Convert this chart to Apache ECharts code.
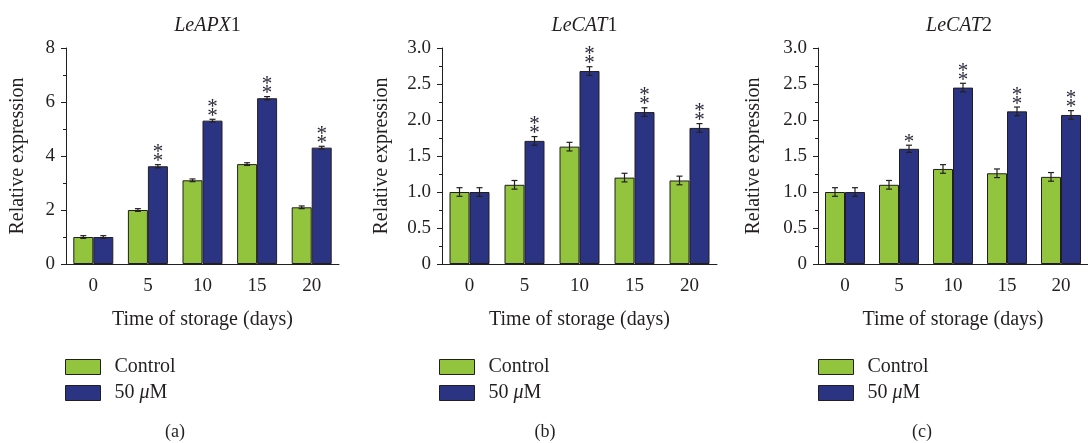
<!DOCTYPE html>
<html>
<head>
<meta charset="utf-8">
<script src="https://cdn.jsdelivr.net/npm/echarts@6/dist/echarts.min.js"></script>
<style>
  html, body { margin: 0; padding: 0; background: #fff; }
  #chart { width: 1088px; height: 443px; }
</style>
</head>
<body>
<div id="chart"></div>
<script>
// storage days (x categories)
var days = ['0', '5', '10', '15', '20'];

// LeAPX1
var apxControl = [1.0, 2.0, 3.1, 3.7, 2.1];
var apxControlErr = [0.05, 0.05, 0.05, 0.05, 0.05];
var apxTreated = [1.0, 3.62, 5.31, 6.14, 4.31];
var apxTreatedErr = [0.05, 0.06, 0.05, 0.06, 0.05];
var apxSig = ['', '**', '**', '**', '**'];
var apxTicks = [0, 2, 4, 6, 8];

// LeCAT1
var cat1Control = [1.0, 1.10, 1.63, 1.20, 1.16];
var cat1ControlErr = [0.06, 0.06, 0.06, 0.06, 0.06];
var cat1Treated = [1.0, 1.71, 2.68, 2.11, 1.89];
var cat1TreatedErr = [0.06, 0.06, 0.06, 0.06, 0.06];
var cat1Sig = ['', '**', '**', '**', '**'];
var cat1Ticks = [0, 0.5, 1.0, 1.5, 2.0, 2.5, 3.0];

// LeCAT2
var cat2Control = [1.0, 1.10, 1.32, 1.26, 1.21];
var cat2ControlErr = [0.06, 0.06, 0.06, 0.06, 0.06];
var cat2Treated = [1.0, 1.60, 2.45, 2.12, 2.07];
var cat2TreatedErr = [0.06, 0.05, 0.06, 0.06, 0.06];
var cat2Sig = ['', '*', '**', '**', '**'];
var cat2Ticks = [0, 0.5, 1.0, 1.5, 2.0, 2.5, 3.0];

var GREEN = '#92c43d';
var BLUE = '#2b3483';
var INK = '#231f20';
var FONT = 'Liberation Serif';

var panels = [
    {gene: 'LeAPX', num: '1', tag: '(a)', ctrl: apxControl, ctrlErr: apxControlErr, trt: apxTreated, trtErr: apxTreatedErr, sig: apxSig, ticks: apxTicks,
     left: 66, width: 273, nameGap: 38, labelDec: 0, legendLeft: 65, tagX: 170},
    {gene: 'LeCAT', num: '1', tag: '(b)', ctrl: cat1Control, ctrlErr: cat1ControlErr, trt: cat1Treated, trtErr: cat1TreatedErr, sig: cat1Sig, ticks: cat1Ticks,
     left: 442, width: 275, nameGap: 50, labelDec: 1, legendLeft: 439, tagX: 540},
    {gene: 'LeCAT', num: '2', tag: '(c)', ctrl: cat2Control, ctrlErr: cat2ControlErr, trt: cat2Treated, trtErr: cat2TreatedErr, sig: cat2Sig, ticks: cat2Ticks,
     left: 818, width: 272, nameGap: 54, labelDec: 1, legendLeft: 818, tagX: 917}
];

// error bar (and asterisks) drawn next to the bar centre
function errorBars(vals, errs, sig, offset) {
    return function (params, api) {
        var i = params.dataIndex;
        var top = api.coord([i, vals[i] + errs[i]]);
        var bot = api.coord([i, vals[i] - errs[i]]);
        var cx = top[0] + offset;
        var st = {stroke: INK, lineWidth: 1.2};
        var kids = [
            {type: 'line', shape: {x1: cx, y1: top[1], x2: cx, y2: bot[1]}, style: st},
            {type: 'line', shape: {x1: cx - 3, y1: top[1], x2: cx + 3, y2: top[1]}, style: st},
            {type: 'line', shape: {x1: cx - 3, y1: bot[1], x2: cx + 3, y2: bot[1]}, style: st}
        ];
        if (sig) {
            for (var k = 0; k < sig[i].length; k++) {
                kids.push({
                    type: 'text',
                    style: {text: '*', x: cx, y: top[1] - 3 - k * 9, fill: '#2a2a3a',
                            font: '21px "' + FONT + '"', align: 'center', verticalAlign: 'middle'}
                });
            }
        }
        return {type: 'group', children: kids};
    };
}

var option = {
    animation: false,
    title: [], grid: [], xAxis: [], yAxis: [], legend: [], series: []
};

panels.forEach(function (p, k) {
    var ymax = p.ticks[p.ticks.length - 1];
    var step = p.ticks[1] - p.ticks[0];
    option.grid.push({left: p.left, top: 48, width: p.width, height: 216});
    option.title.push({
        text: '{i|' + p.gene + '}{n|' + p.num + '}',
        left: p.left + p.width / 2, top: 11, textAlign: 'center',
        textStyle: {rich: {
            i: {fontFamily: FONT, fontSize: 20, fontStyle: 'italic', fontWeight: 'normal', color: INK},
            n: {fontFamily: FONT, fontSize: 20, fontWeight: 'normal', color: INK}
        }}
    });
    option.title.push({
        text: p.tag, left: p.tagX, top: 418, textAlign: 'center',
        textStyle: {fontFamily: FONT, fontSize: 18, fontWeight: 'normal', color: INK}
    });
    option.xAxis.push({
        type: 'category', gridIndex: k, data: days, position: 'bottom',
        name: 'Time of storage (days)', nameLocation: 'middle', nameGap: 46,
        nameTextStyle: {fontFamily: FONT, fontSize: 20, color: INK},
        axisLine: {lineStyle: {color: INK, width: 1}},
        axisTick: {alignWithLabel: true, length: 5, lineStyle: {color: INK}},
        axisLabel: {fontFamily: FONT, fontSize: 19, color: INK, margin: 13}
    });
    option.xAxis.push({
        type: 'category', gridIndex: k, data: days, position: 'bottom',
        axisLine: {show: false},
        axisTick: {length: 3, lineStyle: {color: INK}},
        axisLabel: {show: false}
    });
    option.yAxis.push({
        type: 'value', gridIndex: k, min: 0, max: ymax, interval: step,
        name: 'Relative expression', nameLocation: 'middle', nameGap: p.nameGap,
        nameTextStyle: {fontFamily: FONT, fontSize: 20, color: INK},
        axisLine: {show: true, lineStyle: {color: INK, width: 1}},
        axisTick: {show: true, length: 5, lineStyle: {color: INK}},
        minorTick: {show: true, splitNumber: 2, length: 3, lineStyle: {color: INK}},
        splitLine: {show: false},
        axisLabel: {fontFamily: FONT, fontSize: 19, color: INK, margin: 11,
            formatter: function (v) { return v === 0 ? '0' : v.toFixed(p.labelDec); }}
    });
    option.legend.push({
        orient: 'vertical', left: p.legendLeft, top: 357, padding: 0,
        itemWidth: 35, itemHeight: 15, itemGap: 6,
        icon: 'rect', data: ['Control', '50 μM'],
        itemStyle: {borderColor: INK, borderWidth: 1},
        formatter: function (n) { return n === '50 μM' ? '50 {i|μ}M' : n; },
        textStyle: {fontFamily: FONT, fontSize: 20, color: INK, padding: [0, 0, 0, 9],
            rich: {i: {fontFamily: FONT, fontSize: 20, fontStyle: 'italic', color: INK}}}
    });
    var xi = 2 * k;
    option.series.push({
        name: 'Control', type: 'bar', xAxisIndex: xi, yAxisIndex: k, data: p.ctrl,
        barWidth: 20, barGap: '0%',
        itemStyle: {color: GREEN, borderColor: INK, borderWidth: 1}
    });
    option.series.push({
        name: '50 μM', type: 'bar', xAxisIndex: xi, yAxisIndex: k, data: p.trt,
        barWidth: 20, barGap: '0%',
        itemStyle: {color: BLUE, borderColor: INK, borderWidth: 1}
    });
    option.series.push({
        type: 'custom', xAxisIndex: xi, yAxisIndex: k, data: p.ctrl, z: 5,
        renderItem: errorBars(p.ctrl, p.ctrlErr, null, -10)
    });
    option.series.push({
        type: 'custom', xAxisIndex: xi, yAxisIndex: k, data: p.trt, z: 5,
        renderItem: errorBars(p.trt, p.trtErr, p.sig, 10)
    });
});

var chart = echarts.init(document.getElementById('chart'));
chart.setOption(option);
</script>
</body>
</html>
